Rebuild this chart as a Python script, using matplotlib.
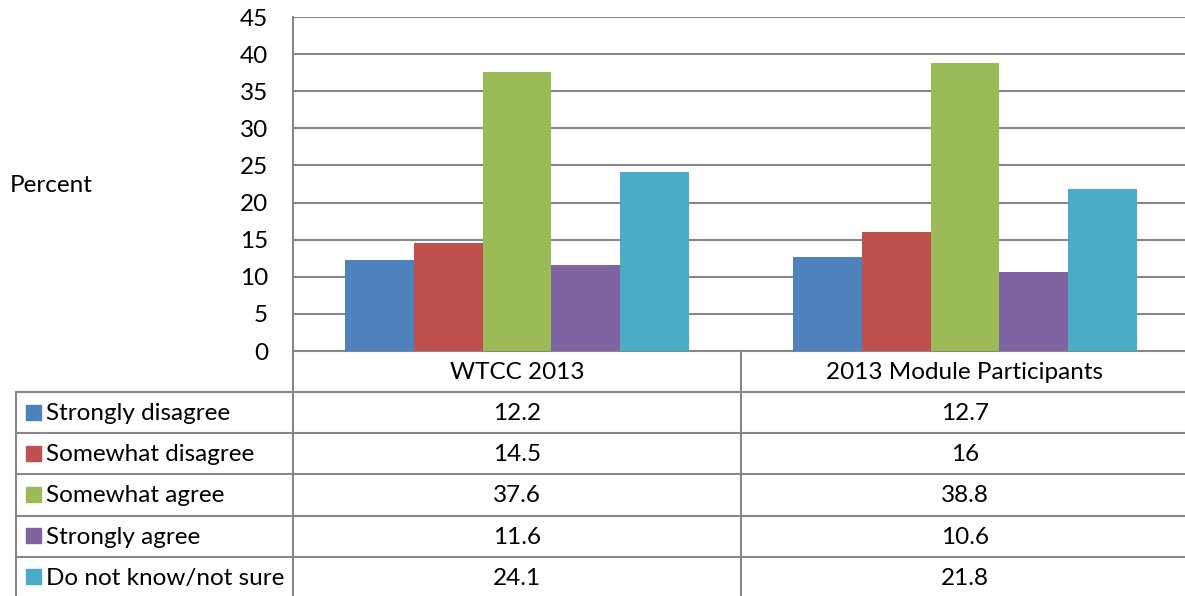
import matplotlib
matplotlib.use("Agg")
import matplotlib.pyplot as plt
from matplotlib.lines import Line2D
from matplotlib.patches import Rectangle
import numpy as np

groups = ["WTCC 2013", "2013 Module Participants"]
responses = ["Strongly disagree", "Somewhat disagree", "Somewhat agree",
             "Strongly agree", "Do not know/not sure"]
strongly_disagree = [12.2, 12.7]
somewhat_disagree = [14.5, 16]
somewhat_agree = [37.6, 38.8]
strongly_agree = [11.6, 10.6]
not_sure = [24.1, 21.8]
series = [strongly_disagree, somewhat_disagree, somewhat_agree, strongly_agree, not_sure]
colors = ["#4F81BD", "#C0504D", "#9BBB59", "#8064A2", "#4BACC6"]
y_ticks = list(range(0, 50, 5))

W, H = 1185, 596
plt.rcParams['font.family'] = ['Lato', 'DejaVu Sans']
fig = plt.figure(figsize=(W / 100, H / 100), dpi=100)

def fx(px):
    return px / W

def fy(py):
    return 1 - py / H

grid_col = "#878787"
fs = 17.5

# plot area in pixel terms
left, right, top, bottom = 293, 1189, 17, 351
ax = fig.add_axes([fx(left), fy(bottom), fx(right) - fx(left), fy(top) - fy(bottom)])
ax.set_xlim(-0.5, len(groups) - 0.5)
ax.set_ylim(0, 45)

n = len(series)
bw = 0.77 / n
x = np.arange(len(groups))
for i, (vals, c) in enumerate(zip(series, colors)):
    ax.bar(x - 0.385 + bw * (i + 0.5), vals, width=bw, color=c, zorder=3)

ax.set_yticks(y_ticks)
ax.set_yticklabels([str(t) for t in y_ticks], fontsize=fs)
ax.yaxis.grid(True, color=grid_col, linewidth=1.5, zorder=0)
ax.tick_params(axis='y', length=0, pad=18)
ax.set_xticks([])
for s in ["top", "right"]:
    ax.spines[s].set_visible(False)
ax.spines["left"].set_color(grid_col)
ax.spines["left"].set_linewidth(1.5)
ax.spines["bottom"].set_color(grid_col)
ax.spines["bottom"].set_linewidth(1.5)

fig.text(fx(10), fy(185), "Percent", fontsize=fs, ha="left", va="center")

# data table underneath
mid = 741
header_top, header_bot = 351, 392
row_h = (596 - header_bot) / len(responses) + 0.4
tab_left = 16

def hline(x0, x1, y):
    fig.add_artist(Line2D([fx(x0), fx(x1)], [fy(y), fy(y)], color=grid_col, lw=1.5))

def vline(x0, y0, y1):
    fig.add_artist(Line2D([fx(x0), fx(x0)], [fy(y0), fy(y1)], color=grid_col, lw=1.5))

vline(left, header_top, H + 2)
vline(mid, header_top, H + 2)
vline(tab_left, header_bot, H + 2)
hline(tab_left, right, header_bot)
for r in range(1, len(responses)):
    hline(tab_left, right, header_bot + r * row_h)

col_centers = [(left + mid) / 2, (mid + right) / 2]
for g, cx in zip(groups, col_centers):
    fig.text(fx(cx), fy((header_top + header_bot) / 2 + 1), g, fontsize=fs,
             ha="center", va="center")

for r, (name, vals, c) in enumerate(zip(responses, series, colors)):
    cy = header_bot + (r + 0.5) * row_h
    fig.add_artist(Rectangle((fx(26), fy(cy + 7)), fx(15), 15 / H, color=c))
    fig.text(fx(46), fy(cy + 1), name, fontsize=fs, ha="left", va="center")
    for v, cx in zip(vals, col_centers):
        fig.text(fx(cx), fy(cy + 1), f"{v:g}", fontsize=fs, ha="center", va="center")

fig.savefig("out.png", dpi=100)
